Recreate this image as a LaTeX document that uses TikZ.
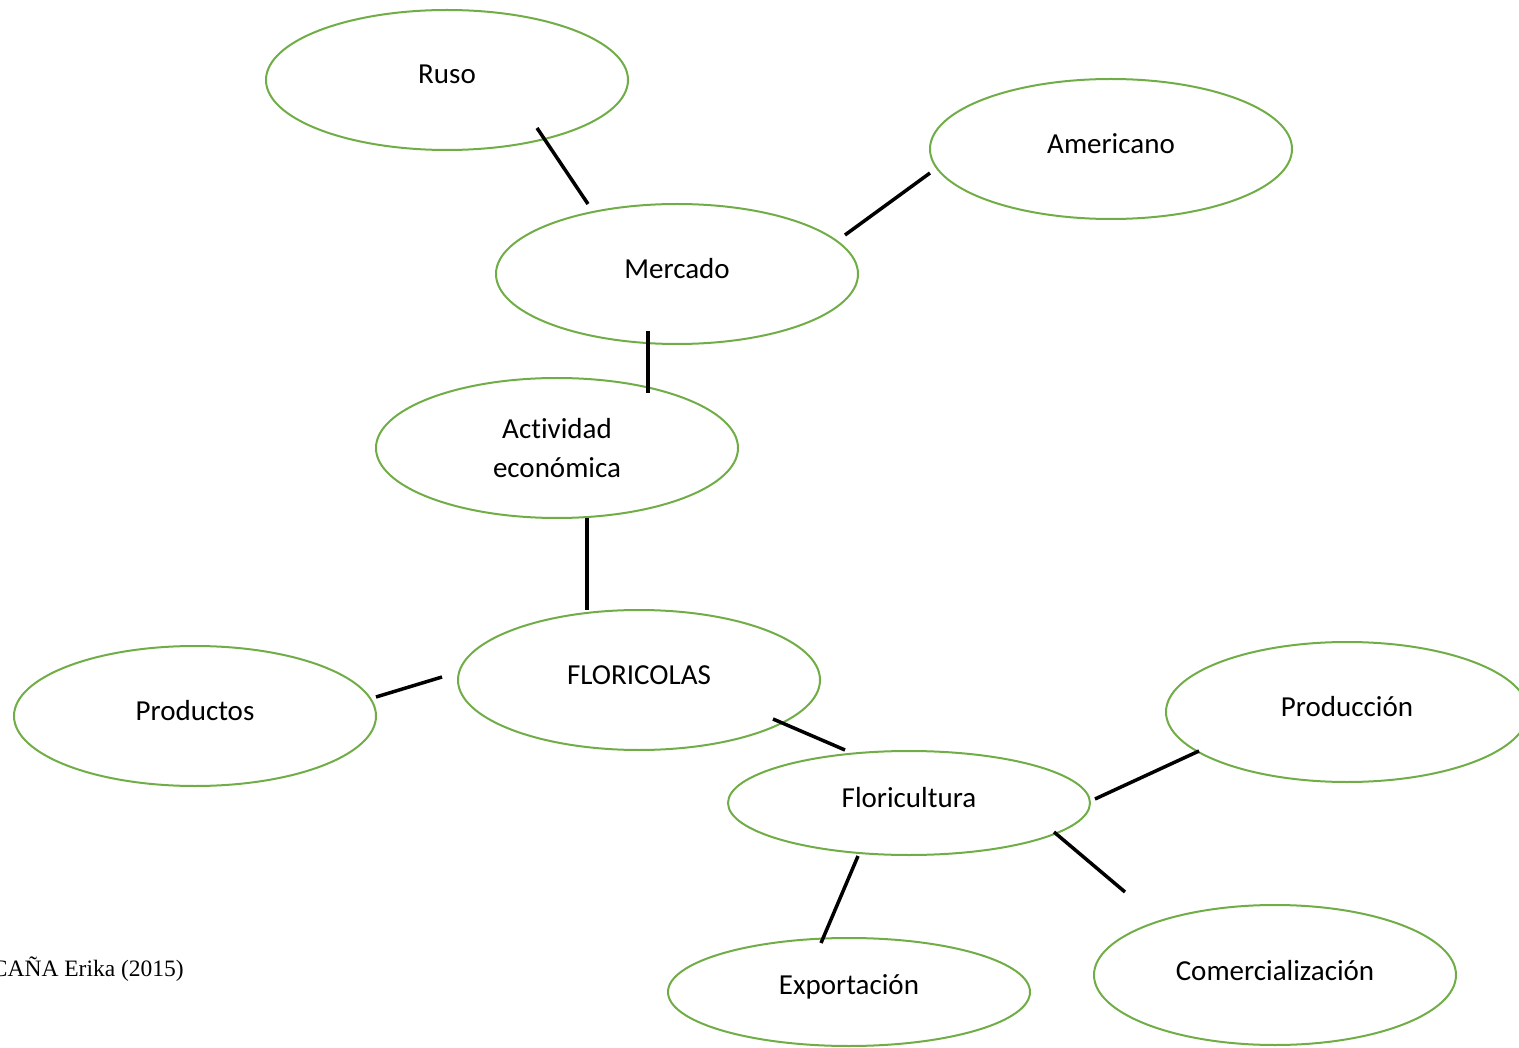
\documentclass[tikz,border=0pt]{standalone}
\usepackage{fontspec}
\setmainfont[Ligatures=NoCommon]{Carlito}
\newfontfamily\timesfont{Liberation Serif}
\definecolor{ellgreen}{RGB}{112,173,71}
\begin{document}
\begin{tikzpicture}[x=1pt,y=-1pt,
  bubble/.style={draw=ellgreen,line width=2pt},
  lbl/.style={font=\fontsize{29}{39}\selectfont,align=center,inner sep=0pt},
  conn/.style={line width=3.5pt,black}]
\useasboundingbox (0,0) rectangle (1519,1048);
\clip (0,0) rectangle (1519,1048);
% ellipses
\draw[bubble] (447,80) ellipse[x radius=181,y radius=70];
\draw[bubble] (1111,149) ellipse[x radius=181,y radius=70];
\draw[bubble] (677,274) ellipse[x radius=181,y radius=70];
\draw[bubble] (557,448) ellipse[x radius=181,y radius=70];
\draw[bubble] (639,680) ellipse[x radius=181,y radius=70];
\draw[bubble] (195,716) ellipse[x radius=181,y radius=70];
\draw[bubble] (909,803) ellipse[x radius=181,y radius=52];
\draw[bubble] (1347,712) ellipse[x radius=181,y radius=70];
\draw[bubble] (849,992) ellipse[x radius=181,y radius=54];
\draw[bubble] (1275,975) ellipse[x radius=181,y radius=70];
% labels
\node[lbl] (ruso) at (447,74) {Ruso};
\node[lbl] (americano) at (1111,144) {Americano};
\node[lbl] (mercado) at (677,269) {Mercado};
\node[lbl] (actividad) at (557,448) {Actividad\\económica};
\node[lbl] (floricolas) at (639,675) {FLORICOLAS};
\node[lbl] (productos) at (195,711) {Productos};
\node[lbl] (floricultura) at (909,798) {Floricultura};
\node[lbl] (produccion) at (1347,707) {Producción};
\node[lbl] (exportacion) at (849,987) {Exportación};
\node[lbl] (comercial) at (1275,971) {Comercialización};
\node[font=\timesfont\fontsize{23.5}{28}\selectfont,anchor=east,inner sep=0pt] (autor) at (184,969) {CAÑA Erika (2015)};
% connector end points
\coordinate (c1a) at (537,128); \coordinate (c1b) at (588,204);
\coordinate (c2a) at (845,235); \coordinate (c2b) at (930,173);
\coordinate (c3a) at (648,331); \coordinate (c3b) at (648,393);
\coordinate (c4a) at (587,518); \coordinate (c4b) at (587,610);
\coordinate (c5a) at (376,697); \coordinate (c5b) at (442,677);
\coordinate (c6a) at (773,719); \coordinate (c6b) at (845,750);
\coordinate (c7a) at (1095,799); \coordinate (c7b) at (1199,751);
\coordinate (c8a) at (1054,832); \coordinate (c8b) at (1125,892);
\coordinate (c9a) at (858,856); \coordinate (c9b) at (821,943);
\draw[conn] (c1a) -- (c1b);
\draw[conn] (c2a) -- (c2b);
\draw[conn] (c3a) -- (c3b);
\draw[conn] (c4a) -- (c4b);
\draw[conn] (c5a) -- (c5b);
\draw[conn] (c6a) -- (c6b);
\draw[conn] (c7a) -- (c7b);
\draw[conn] (c8a) -- (c8b);
\draw[conn] (c9a) -- (c9b);
\end{tikzpicture}
\end{document}
